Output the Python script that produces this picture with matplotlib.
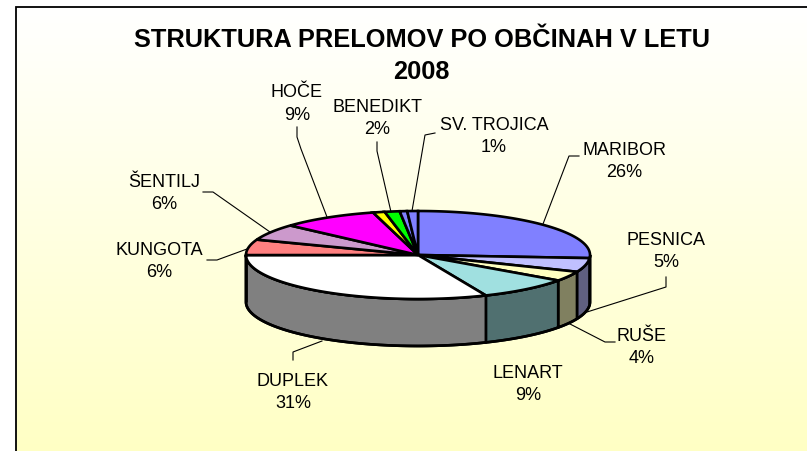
import numpy as np
import matplotlib
matplotlib.use("Agg")
import matplotlib.pyplot as plt
from matplotlib.colors import LinearSegmentedColormap, to_rgb
from matplotlib.patches import Polygon

plt.rcParams['font.family'] = ['Liberation Sans', 'DejaVu Sans']

# ---- data (clockwise from 12 o'clock) ----
municipalities = ["MARIBOR", "PESNICA", "RUŠE", "LENART", "DUPLEK", "KUNGOTA",
                  "ŠENTILJ", "HOČE", "", "BENEDIKT", "", "SV. TROJICA"]
shares = [26.1, 5.1, 3.6, 8.7, 31.4, 5.7, 6.0, 9.1, 1.1, 1.4, 0.7, 1.0]
percent_labels = ["26%", "5%", "4%", "9%", "31%", "6%", "6%", "9%", "", "2%", "", "1%"]
slice_colors = ["#8080FF", "#C0C0FF", "#FFFFC0", "#A0E0E0", "#FFFFFF", "#FF8080",
                "#CC99CC", "#FF00FF", "#FFFF00", "#00FF00", "#8080FF", "#8080FF"]
title = "STRUKTURA PRELOMOV PO OBČINAH V LETU\n2008"

# ---- layout (pixels) ----
W, H = 807, 452
CX, CY, RX, RY, DEPTH = 418, 256, 172, 44, 47
label_pos = {"MARIBOR": (624, 155), "PESNICA": (666, 245), "RUŠE": (642, 341),
             "LENART": (528, 378), "DUPLEK": (293, 386), "KUNGOTA": (159, 255),
             "ŠENTILJ": (164, 187), "HOČE": (297, 97), "BENEDIKT": (377, 112),
             "SV. TROJICA": (494, 130)}
leaders = [[(543, 225), (569, 157), (579, 157)],
           [(587, 313), (666, 288), (666, 278)],
           [(570, 325), (605, 343), (615, 343)],
           [(322, 342), (293, 353), (293, 361)],
           [(247, 250), (217, 261), (207, 261)],
           [(270, 233), (213, 193), (203, 193)],
           [(327, 218), (301, 150), (297, 138), (297, 128)],
           [(391, 213), (377, 152), (377, 143)],
           [(412, 212), (425, 136), (435, 134)]]

fig = plt.figure(figsize=(W / 100, H / 100), dpi=100, facecolor="white")
ax = fig.add_axes([0, 0, 1, 1])
ax.set_xlim(0, W)
ax.set_ylim(H, 0)
ax.axis("off")

# gradient background and frame
cmap = LinearSegmentedColormap.from_list("bg", ["#FFFFFF", "#FFFFC4"])
grad = np.linspace(0, 1, 256).reshape(-1, 1)
ax.imshow(grad, cmap=cmap, extent=(16, W + 2, H + 2, 8), aspect="auto", zorder=0)
ax.set_xlim(0, W)
ax.set_ylim(H, 0)
ax.plot([16, 16, W + 2], [H + 2, 8, 8], color="black", lw=1.3, zorder=1, solid_joinstyle="miter")


def rim(t_deg, dy=0.0):
    t = np.radians(t_deg)
    return np.column_stack([CX + RX * np.sin(t), CY + dy - RY * np.cos(t)])


edges = np.cumsum([0] + shares) / sum(shares) * 360

# side wall (front half only), colours at half brightness of the top
for a, b, col in zip(edges[:-1], edges[1:], slice_colors):
    lo, hi = max(a, 90), min(b, 270)
    if hi <= lo:
        continue
    ts = np.linspace(lo, hi, 80)
    pts = np.vstack([rim(ts), rim(ts[::-1], DEPTH)])
    dark = tuple(c * 0.5 for c in to_rgb(col))
    ax.add_patch(Polygon(pts, closed=True, fc=dark, ec="black", lw=1.9, zorder=2,
                         joinstyle="round"))

# outer outline of the wall
ts = np.linspace(90, 270, 200)
ax.add_patch(Polygon(np.vstack([rim(ts), rim(ts[::-1], DEPTH)]), closed=True, fill=False,
                     ec="black", lw=1.9, zorder=3))

# top face
for a, b, col in zip(edges[:-1], edges[1:], slice_colors):
    ts = np.linspace(a, b, max(int(b - a) * 2, 6))
    pts = np.vstack([[[CX, CY]], rim(ts)])
    ax.add_patch(Polygon(pts, closed=True, fc=col, ec="black", lw=1.9, zorder=4,
                         joinstyle="miter"))

# leaders
for path in leaders:
    xs, ys = zip(*path)
    ax.plot(xs, ys, color="black", lw=0.8, zorder=5)

# labels
for name, pct in zip(municipalities, percent_labels):
    if name:
        x, y = label_pos[name]
        ax.text(x, y, name, ha="center", va="baseline", fontsize=13, color="black", zorder=6)
        ax.text(x, y + 22.5, pct, ha="center", va="baseline", fontsize=13, color="black", zorder=6)

ax.text(421.5, 56, title, ha="center", va="center", fontsize=18.3, fontweight="bold",
        color="black", linespacing=1.39, zorder=6)

fig.savefig("out.png", dpi=100)
